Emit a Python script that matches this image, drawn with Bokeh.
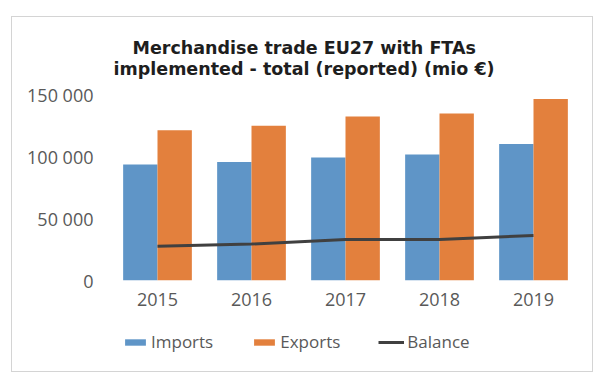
from bokeh.plotting import figure
from bokeh.layouts import column
from bokeh.models import (Range1d, FactorRange, FixedTicker, Legend, LegendItem,
                          Title, ColumnDataSource)
from bokeh.transform import dodge
from bokeh.embed import file_html
from bokeh.resources import INLINE

# ---- data (mio EUR) ----
years = ["2015", "2016", "2017", "2018", "2019"]
imports = [93800, 95900, 99500, 101900, 110500]
exports = [121600, 125100, 132700, 135100, 146900]
balance = [27800, 29500, 33200, 33200, 36500]
y_ticks = [0, 50000, 100000, 150000]
y_tick_labels = ["0", "50 000", "100 000", "150 000"]
title_lines = ["Merchandise trade EU27 with FTAs",
               "implemented - total (reported) (mio €)"]
series_names = ["Imports", "Exports", "Balance"]

FONT = "Open Sans"
TFONT = "DejaVu Sans"
GRAY = "#595959"
BLUE = "#5f95c7"
ORANGE = "#e3803d"
DARK = "#404040"

src = ColumnDataSource(dict(year=years, imports=imports, exports=exports, balance=balance))

# ---------------- main chart ----------------
p = figure(frame_width=472, frame_height=202, output_backend="svg", toolbar_location=None,
           x_range=FactorRange(*years, range_padding=0), y_range=Range1d(0, 163400),
           min_border_left=98, min_border_right=12, min_border_top=61, min_border_bottom=38,
           title=None)
p.outline_line_color = None
p.grid.visible = False
p.background_fill_color = "white"
p.border_fill_color = "white"

bw = 0.3655
r_imp = p.vbar(x=dodge("year", -bw / 2, range=p.x_range), top="imports", width=bw,
               source=src, fill_color=BLUE, line_color=None)
r_exp = p.vbar(x=dodge("year", bw / 2, range=p.x_range), top="exports", width=bw,
               source=src, fill_color=ORANGE, line_color=None)
r_bal = p.line(x="year", y="balance", source=src, line_color=DARK, line_width=3)

p.yaxis.ticker = FixedTicker(ticks=y_ticks)
p.yaxis.major_label_overrides = {t: l for t, l in zip(y_ticks, y_tick_labels)}
for ax in (p.xaxis[0], p.yaxis[0]):
    ax.axis_line_color = None
    ax.major_tick_line_color = None
    ax.minor_tick_line_color = None
    ax.major_tick_out = 0
    ax.major_tick_in = 0
    ax.major_label_text_font = FONT
    ax.major_label_text_font_size = "18px"
    ax.major_label_text_color = GRAY
p.yaxis.major_label_standoff = 17
p.xaxis.major_label_standoff = 12

# two-line title (second line added first: closest to the plot)
p.add_layout(Title(text=title_lines[1], align="left", offset=3, standoff=0,
                   text_font=TFONT, text_font_style="bold", text_font_size="17.5px",
                   text_color="#1e1e1e"), "above")
p.add_layout(Title(text=title_lines[0], align="left", offset=22, standoff=-3,
                   text_font=TFONT, text_font_style="bold", text_font_size="17.5px",
                   text_color="#1e1e1e"), "above")

# ---------------- legend strip ----------------
lp = figure(width=582, height=53, output_backend="svg", toolbar_location=None,
            x_axis_location=None, y_axis_location=None,
            x_range=FactorRange(*years, range_padding=0), y_range=Range1d(-300000, -200000),
            min_border_left=98, min_border_top=0, min_border_right=12, min_border_bottom=0)
lp.outline_line_color = None
lp.grid.visible = False
lp.border_fill_color = "white"
lp.background_fill_color = "white"
# same series, zero-size and out of this strip's view: only legend swatches show
l_imp = lp.vbar(x="year", top="imports", bottom="imports", width=0, source=src,
                fill_color=BLUE, line_color=None)
l_exp = lp.vbar(x="year", top="exports", bottom="exports", width=0, source=src,
                fill_color=ORANGE, line_color=None)
l_bal = lp.line(x="year", y="balance", source=src, line_color=DARK, line_width=3)

legend = Legend(items=[LegendItem(label=n, renderers=[r]) for n, r in
                       zip(series_names, [l_imp, l_exp, l_bal])],
                location="top_left", orientation="horizontal",
                glyph_width=26, glyph_height=8, label_standoff=3,
                padding=0, margin=12, spacing=38,
                border_line_color=None, background_fill_alpha=0,
                label_text_font=FONT, label_text_font_size="17px",
                label_text_color=GRAY)
lp.add_layout(legend)

layout = column(p, lp, spacing=0, margin=(16, 0, 0, 11),
                styles={"border": "1px solid #d4d4d4", "background": "white",
                        "width": "582px", "overflow": "hidden"})

open("out.html", "w").write(file_html(layout, INLINE))
